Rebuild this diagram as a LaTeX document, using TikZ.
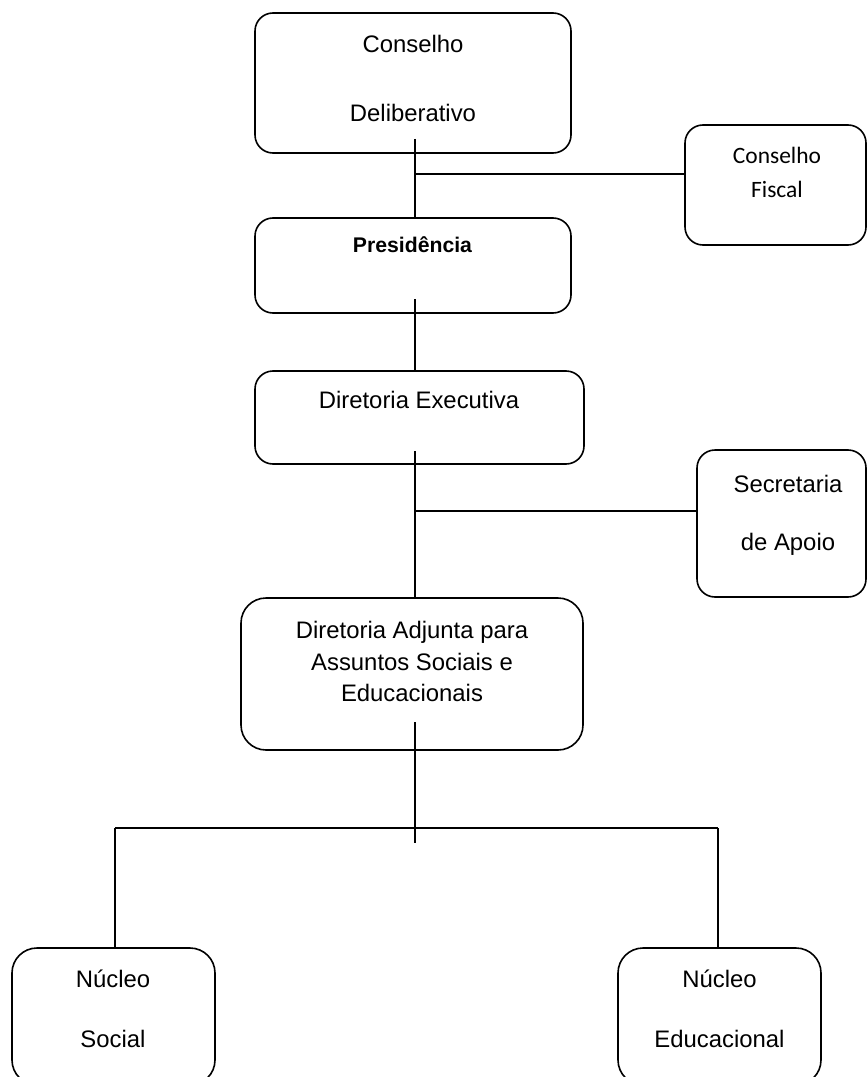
\documentclass[tikz,border=0pt]{standalone}
\usepackage{fontspec}
\setmainfont{Liberation Sans}
\newfontfamily\calibri{Carlito}
\usetikzlibrary{fit}
\begin{document}
\begin{tikzpicture}[x=0.75pt,y=-0.75pt,
  line width=1.2pt,
  box/.style={draw, rounded corners=13.5pt, inner sep=0pt},
  bigbox/.style={draw, rounded corners=18.75pt, inner sep=0pt},
  txt/.style={anchor=base, inner sep=0pt, font=\fontsize{17.9}{21}\selectfont},
  btxt/.style={anchor=base, inner sep=0pt, font=\fontsize{15.9}{19}\selectfont\bfseries},
  ctxt/.style={anchor=base, inner sep=0pt, font=\calibri\fontsize{17.6}{21}\selectfont}]
\useasboundingbox (0,0) rectangle (867,1077);
% boxes
\node[box, fit={(255,13) (571,153)}] (cd) {};
\node[box, fit={(685,125) (866,245)}] (cf) {};
\node[box, fit={(255,218) (571,313)}] (pres) {};
\node[box, fit={(255,371) (584,464)}] (de) {};
\node[box, fit={(697,450) (866,597)}] (sa) {};
\node[bigbox, fit={(241,598) (583,750)}] (da) {};
\node[bigbox, fit={(12,948) (215,1085)}] (ns) {};
\node[bigbox, fit={(618,948) (821,1085)}] (ne) {};
% texts
\node[txt] (cd1) at (413,52.7) {Conselho};
\node[txt] (cd2) at (413,121.7) {Deliberativo};
\node[ctxt] (cf1) at (777,163) {Conselho};
\node[ctxt] (cf2) at (777,197) {Fiscal};
\node[btxt] (pr1) at (412.5,252) {Presidência};
\node[txt] (de1) at (419,408) {Diretoria Executiva};
\node[txt] (sa1) at (788,492) {Secretaria};
\node[txt] (sa2) at (788,550) {de Apoio};
\node[txt] (da1) at (412,638) {Diretoria Adjunta para};
\node[txt] (da2) at (412,670) {Assuntos Sociais e};
\node[txt] (da3) at (412,701.7) {Educacionais};
\node[txt] (ns1) at (113,987) {Núcleo};
\node[txt] (ns2) at (113,1047) {Social};
\node[txt] (ne1) at (719.5,987) {Núcleo};
\node[txt] (ne2) at (719.5,1047) {Educacional};
% connectors
\coordinate (s1) at (415,139);
\coordinate (j1) at (415,174);
\coordinate (s2) at (415,299);
\coordinate (s3) at (415,451);
\coordinate (j2) at (415,511);
\coordinate (s4) at (415,722);
\coordinate (s4e) at (415,843);
\coordinate (hl) at (115,828);
\coordinate (hr) at (718,828);
\draw (s1) -- (s1 |- pres.north);
\draw (j1) -- (j1 -| cf.west);
\draw (s2) -- (s2 |- de.north);
\draw (s3) -- (s3 |- da.north);
\draw (j2) -- (j2 -| sa.west);
\draw (s4) -- (s4e);
\draw (hl) -- (hr);
\draw (hl) -- (hl |- ns.north);
\draw (hr) -- (hr |- ne.north);
\end{tikzpicture}
\end{document}
